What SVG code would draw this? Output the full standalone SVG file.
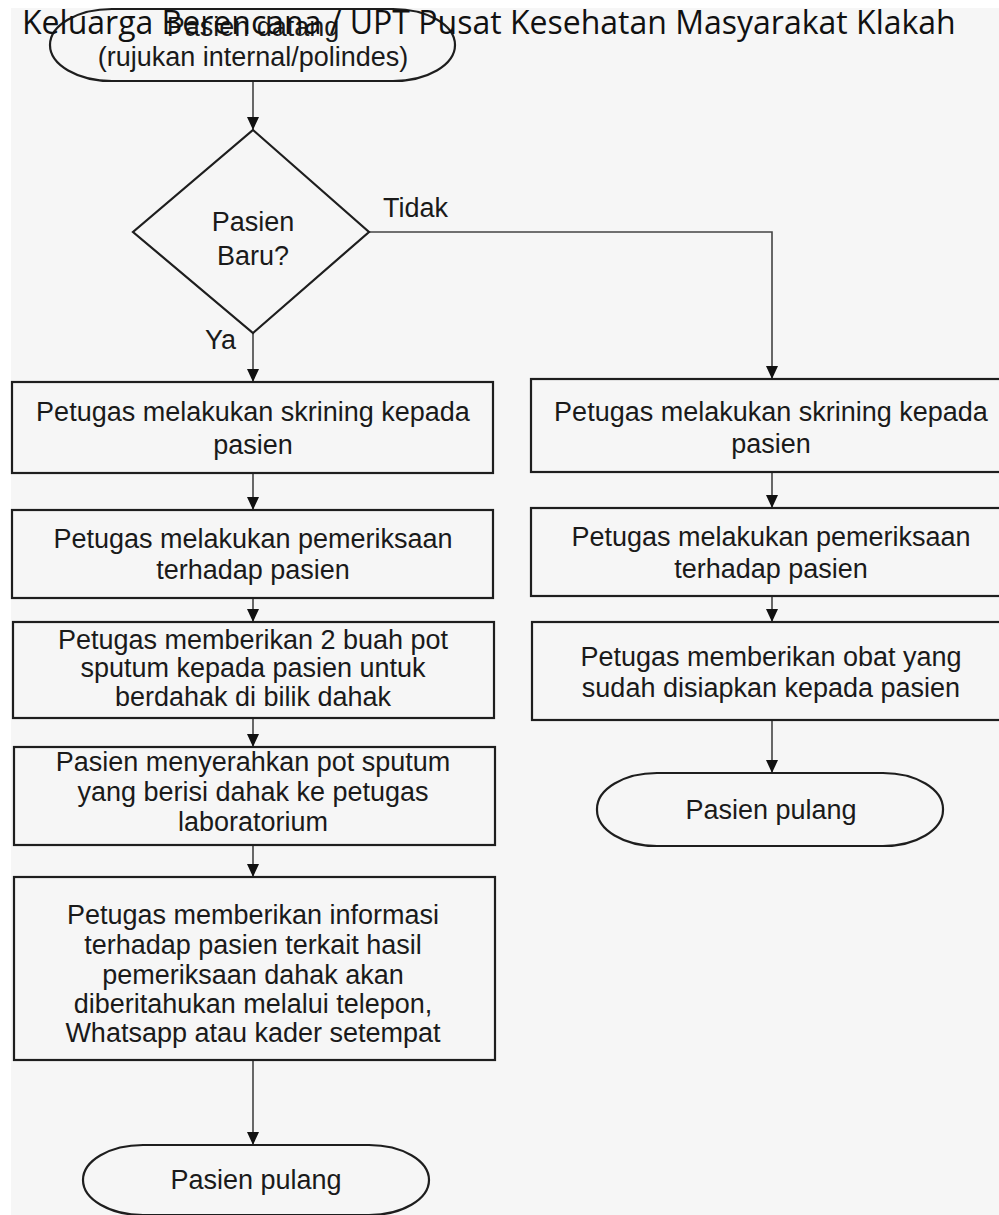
<svg xmlns="http://www.w3.org/2000/svg" width="999" height="1215" viewBox="0 0 999 1215">
<style>
.box{fill:none;stroke:#1e1e1e;stroke-width:2.2}
.t{font-family:"Liberation Sans",Arial,sans-serif;font-size:27px;fill:#1a1a1a;text-anchor:middle}
.lbl{font-family:"Liberation Sans",Arial,sans-serif;font-size:27px;fill:#1a1a1a}
.c{fill:none;stroke:#444;stroke-width:1.6}
.title{font-family:"Open Sans","Noto Sans",sans-serif;font-size:32px;fill:#111}
</style>
<defs>
<marker id="dn" markerUnits="userSpaceOnUse" markerWidth="14" markerHeight="14" refX="7" refY="13" viewBox="0 0 14 14">
<path d="M1,0 L13,0 L7,13 Z" fill="#111"/>
</marker>
</defs>
<rect x="0" y="0" width="999" height="1215" fill="#ffffff"/>
<rect x="11" y="8" width="988" height="1207" fill="#f6f6f6"/>
<g id="connectors">
<line class="c" x1="253" y1="81" x2="253" y2="130" marker-end="url(#dn)"/>
<line class="c" x1="253" y1="333" x2="253" y2="382" marker-end="url(#dn)"/>
<polyline class="c" points="369,232 772,232 772,379" marker-end="url(#dn)"/>
<line class="c" x1="253" y1="473" x2="253" y2="510" marker-end="url(#dn)"/>
<line class="c" x1="253" y1="598" x2="253" y2="622" marker-end="url(#dn)"/>
<line class="c" x1="253" y1="718" x2="253" y2="747" marker-end="url(#dn)"/>
<line class="c" x1="253" y1="845" x2="253" y2="877" marker-end="url(#dn)"/>
<line class="c" x1="253" y1="1060" x2="253" y2="1145" marker-end="url(#dn)"/>
<line class="c" x1="772" y1="472" x2="772" y2="508" marker-end="url(#dn)"/>
<line class="c" x1="772" y1="596" x2="772" y2="622" marker-end="url(#dn)"/>
<line class="c" x1="772" y1="720" x2="772" y2="773" marker-end="url(#dn)"/>
<text class="lbl" x="383" y="217">Tidak</text>
<text class="lbl" x="205" y="349">Ya</text>
</g>
<g id="start">
<rect class="box" x="50" y="9" width="405" height="72" rx="62" ry="36"/>
<text class="t" x="253" y="36">Pasien datang</text>
<text class="t" x="253" y="66">(rujukan internal/polindes)</text>
</g>
<g id="decision">
<polygon class="box" points="253,130 369,232 253,333 133,232"/>
<text class="t" x="253" y="231">Pasien</text>
<text class="t" x="253" y="265">Baru?</text>
</g>
<g id="left1">
<rect class="box" x="12" y="382" width="481" height="91"/>
<text class="t" x="253" y="421">Petugas melakukan skrining kepada</text>
<text class="t" x="253" y="454">pasien</text>
</g>
<g id="left2">
<rect class="box" x="12" y="510" width="481" height="88"/>
<text class="t" x="253" y="548">Petugas melakukan pemeriksaan</text>
<text class="t" x="253" y="579">terhadap pasien</text>
</g>
<g id="left3">
<rect class="box" x="13" y="622" width="481" height="96"/>
<text class="t" x="253" y="649">Petugas memberikan 2 buah pot</text>
<text class="t" x="253" y="677">sputum kepada pasien untuk</text>
<text class="t" x="253" y="706">berdahak di bilik dahak</text>
</g>
<g id="left4">
<rect class="box" x="14" y="747" width="481" height="98"/>
<text class="t" x="253" y="771">Pasien menyerahkan pot sputum</text>
<text class="t" x="253" y="801">yang berisi dahak ke petugas</text>
<text class="t" x="253" y="831">laboratorium</text>
</g>
<g id="left5">
<rect class="box" x="14" y="877" width="481" height="183"/>
<text class="t" x="253" y="924">Petugas memberikan informasi</text>
<text class="t" x="253" y="954">terhadap pasien terkait hasil</text>
<text class="t" x="253" y="984">pemeriksaan dahak akan</text>
<text class="t" x="253" y="1013">diberitahukan melalui telepon,</text>
<text class="t" x="253" y="1042">Whatsapp atau kader setempat</text>
</g>
<g id="end-left">
<rect class="box" x="83" y="1145" width="346" height="70" rx="60" ry="35"/>
<text class="t" x="256" y="1189">Pasien pulang</text>
</g>
<g id="right1">
<rect class="box" x="531" y="379" width="481" height="93"/>
<text class="t" x="771" y="421">Petugas melakukan skrining kepada</text>
<text class="t" x="771" y="453">pasien</text>
</g>
<g id="right2">
<rect class="box" x="531" y="508" width="481" height="88"/>
<text class="t" x="771" y="546">Petugas melakukan pemeriksaan</text>
<text class="t" x="771" y="578">terhadap pasien</text>
</g>
<g id="right3">
<rect class="box" x="532" y="622" width="481" height="98"/>
<text class="t" x="771" y="666">Petugas memberikan obat yang</text>
<text class="t" x="771" y="697">sudah disiapkan kepada pasien</text>
</g>
<g id="end-right">
<rect class="box" x="597" y="773" width="346" height="73" rx="60" ry="36"/>
<text class="t" x="771" y="819">Pasien pulang</text>
</g>
<text class="title" x="22" y="34">Keluarga Berencana / UPT Pusat Kesehatan Masyarakat Klakah</text>
</svg>
